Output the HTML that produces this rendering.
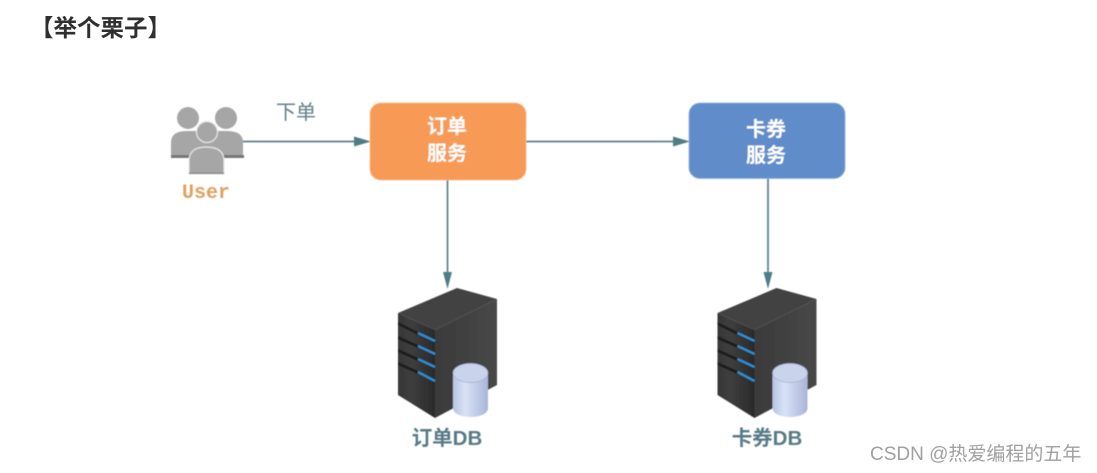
<!DOCTYPE html>
<html lang="zh"><head><meta charset="utf-8">
<style>
html,body{margin:0;padding:0;background:#fff}
svg{display:block}
text{font-family:"Liberation Sans","Noto Sans CJK SC",sans-serif}
</style></head><body>
<svg width="1097" height="473" viewBox="0 0 1097 473" xmlns="http://www.w3.org/2000/svg">
<defs>
<linearGradient id="front" x1="0" x2="1" y1="0" y2="0"><stop offset="0" stop-color="#363636"/><stop offset=".35" stop-color="#3e3e3e"/><stop offset="1" stop-color="#2a2a2a"/></linearGradient>
<linearGradient id="side" x1="0" x2="1" y1="0" y2="0"><stop offset="0" stop-color="#3a3a3a"/><stop offset="1" stop-color="#484848"/></linearGradient>
<linearGradient id="cyl" x1="0" x2="1" y1="0" y2="0"><stop offset="0" stop-color="#b8c4e2"/><stop offset=".35" stop-color="#d8e2f7"/><stop offset="1" stop-color="#a9b5d8"/></linearGradient>
<filter id="soft" x="-5%" y="-5%" width="110%" height="110%"><feGaussianBlur stdDeviation="0.45"/></filter>
<g id="server">
<polygon points="398,313 457,288 497,299 435,330" fill="#424242"/>
<polygon points="435,330 497,299 497,385 435,418" fill="url(#side)"/>
<polygon points="398,313 435,330 435,418 398,395" fill="url(#front)"/>
<g fill="#1a1a1a">
<polygon points="398,322 418,332 418,335 398,325"/>
<polygon points="398,336 418,345 418,348 398,339"/>
<polygon points="398,349 418,358 418,361 398,352"/>
<polygon points="398,362 418,371 418,374 398,365"/>
</g>
<g stroke="#2f8fd6" stroke-width="2.200" fill="none">
<line x1="418" y1="333" x2="435" y2="341"/>
<line x1="418" y1="346" x2="435" y2="354"/>
<line x1="418" y1="359" x2="435" y2="367"/>
<line x1="418" y1="372" x2="435" y2="381"/>
</g>
<path d="M453,373 V408 C453,420 488,420 488,408 V373 Z" fill="url(#cyl)"/>
<ellipse cx="470.500" cy="373" rx="17.500" ry="9.500" fill="#c9d3ec" stroke="#a4aecb" stroke-width=".7"/>
</g>
</defs>

<text x="30" y="36" font-size="23.500" font-weight="700" fill="#2f2f2f">【举个栗子】</text>

<g filter="url(#soft)">
<!-- users -->
<g fill="#a6a6a6">
<circle cx="188" cy="118" r="11"/>
<circle cx="226" cy="118" r="11"/>
<path d="M171,157 V143 C171,134 177,131 188,131 H226 C237,131 243,134 243,143 V157 Z"/>
<rect x="171" y="155" width="73" height="3" fill="#777"/>
<circle cx="207" cy="132" r="10.500" stroke="#e8e8e8" stroke-width="1.200"/>
<path d="M189,174 V161 C189,151 196,147 206,147 C217,147 224,151 224,161 V174 Z" stroke="#e8e8e8" stroke-width="1.200"/>
<rect x="189" y="172.500" width="35" height="1.500" fill="#888"/>
</g>
<text x="206" y="198" font-size="20" font-weight="700" fill="#e0a05e" text-anchor="middle" style="font-family:'Liberation Mono',monospace">User</text>

<!-- connectors -->
<g stroke="#5a7f86" stroke-width="1.700" fill="none">
<line x1="243" y1="141.500" x2="356" y2="141.500"/>
<line x1="526" y1="141.500" x2="675" y2="141.500"/>
<line x1="447.500" y1="180" x2="447.500" y2="273"/>
<line x1="768" y1="178" x2="768" y2="273"/>
</g>
<g fill="#4f7d84">
<polygon points="354,136.500 371,141.500 354,146.500"/>
<polygon points="673,136.500 690,141.500 673,146.500"/>
<polygon points="443,272 452,272 447.500,289"/>
<polygon points="763.500,272 772.500,272 768,289"/>
</g>
<text x="296" y="119" font-size="20" fill="#5f7f86" text-anchor="middle">下单</text>

<!-- boxes -->
<rect x="370" y="103" width="156" height="77" rx="11" fill="#f79a55" stroke="#fbb98a" stroke-width=".8"/>
<rect x="689" y="103" width="156" height="75.500" rx="11" fill="#618dca" stroke="#8fb0dc" stroke-width=".8"/>
<g font-size="20" font-weight="700" fill="#fff" text-anchor="middle">
<text x="447" y="133">订单</text>
<text x="447" y="160">服务</text>
<text x="766" y="136">卡券</text>
<text x="766" y="162">服务</text>
</g>

<use href="#server"/>
<use href="#server" x="319.500"/>

<g font-size="20.500" font-weight="700" fill="#567a85" text-anchor="middle">
<text x="447" y="445">订单DB</text>
<text x="767" y="445">卡券DB</text>
</g>
</g>

<text x="870" y="460" font-size="19" fill="#a0a0a0">CSDN @热爱编程的五年</text>
</svg>
</body></html>
